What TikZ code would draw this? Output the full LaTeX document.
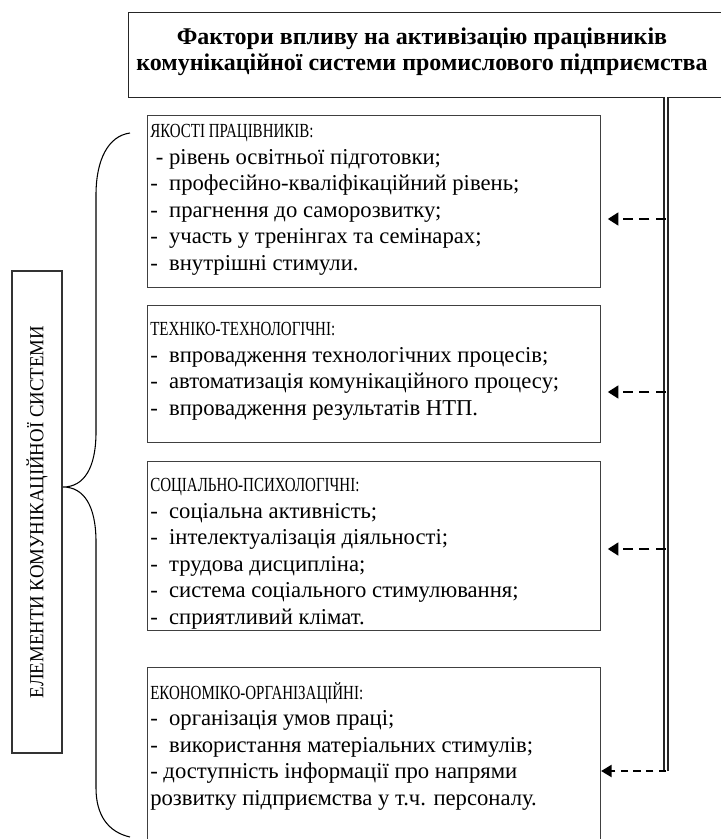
\documentclass[tikz,border=0pt]{standalone}
\usepackage{fontspec}
\setmainfont{Liberation Serif}
\newfontfamily\headfont[FakeStretch=0.75]{Liberation Serif}
\newfontfamily\sidefont[FakeStretch=0.94]{Liberation Serif}
\usetikzlibrary{arrows.meta,positioning}

\newcommand{\bodysize}{\fontsize{17}{19.9}\selectfont}

\tikzset{
  titlebox/.style={draw=black!85, line width=1pt, anchor=north west, inner sep=0pt},
  titletext/.style={font=\fontsize{18}{19.5}\selectfont\bfseries, align=center, inner sep=0pt},
  factbox/.style={draw=black!75, line width=0.8pt, minimum width=339.75pt, anchor=north west, inner sep=0pt},
  facttext/.style={font=\bodysize, align=left, anchor=north west, inner sep=0pt},
  spine/.style={draw=black!85, line width=1.4pt, double=white, double distance=1.1pt},
  feed/.style={-{Triangle[length=8pt,width=9.5pt]}, line width=2.2pt, dash pattern=on 7.5pt off 5pt, shorten >=5pt},
  feedlast/.style={-{Triangle[length=8pt,width=9pt]}, line width=1.9pt, dash pattern=on 5.5pt off 4pt},
  brace/.style={draw=black, line width=0.8pt},
}

\begin{document}
\begin{tikzpicture}[x=0.75pt, y=-0.75pt]
\useasboundingbox (0,0) rectangle (721,839);
\clip (0,0) rectangle (721,839);

% title
\node[titlebox, minimum width=459pt, minimum height=63.75pt] (title) at (128,12) {};
\node[titletext] (titletext) at (422,52) {Фактори впливу на активізацію працівників\\комунікаційної системи промислового підприємства};

% factor groups
\node[factbox, minimum height=129pt] (quality) at (147,115) {};
\node[factbox, minimum height=102.75pt] (technic) at (147,305) {};
\node[factbox, minimum height=126.75pt] (social) at (147,461) {};
\node[factbox, minimum height=150pt] (econ) at (147,667) {};

\node[facttext] (qualitytext) at (150,124) {{\fontsize{15}{19.9}\headfont ЯКОСТІ ПРАЦІВНИКІВ:}\\
  \ - рівень освітньої підготовки;\\
  -~ професійно-кваліфікаційний рівень;\\
  -~ прагнення до саморозвитку;\\
  -~ участь у тренінгах та семінарах;\\
  -~ внутрішні стимули.};
\node[facttext] (technictext) at (150,322) {{\fontsize{15}{19.9}\headfont ТЕХНІКО-ТЕХНОЛОГІЧНІ:}\\
  -~ впровадження технологічних процесів;\\
  -~ автоматизація комунікаційного процесу;\\
  -~ впровадження результатів НТП.};
\node[facttext] (socialtext) at (150,478) {{\fontsize{15}{19.9}\headfont СОЦІАЛЬНО-ПСИХОЛОГІЧНІ:}\\
  -~ соціальна активність;\\
  -~ інтелектуалізація діяльності;\\
  -~ трудова дисципліна;\\
  -~ система соціального стимулювання;\\
  -~ сприятливий клімат.};
\node[facttext] (econtext) at (150,682) {{\fontsize{15}{19.9}\headfont ЕКОНОМІКО-ОРГАНІЗАЦІЙНІ:}\\
  -~ організація умов праці;\\
  -~ використання матеріальних стимулів;\\
  - доступність інформації про напрями\\
  розвитку підприємства у т.ч. персоналу.};

% left side
\node[draw=black!80, line width=0.8pt, rotate=90, minimum width=361.5pt, minimum height=37.5pt,
  inner sep=0pt, font=\fontsize{15}{17}\sidefont] (elements) at (37,512) {ЕЛЕМЕНТИ КОМУНІКАЦІЙНОЇ СИСТЕМИ};
\draw[brace] (130,133) .. controls (108,136) and (96,160) .. (96,195) -- (96,432)
  .. controls (96,468) and (84,487) .. (63,487)
  .. controls (84,487) and (96,506) .. (96,542) -- (96,788)
  .. controls (96,815) and (108,832) .. (130,837);

% links
\coordinate (spinetop) at (666,97);
\coordinate (spinebot) at (666,771);
\coordinate (s1) at (666,219);
\coordinate (s2) at (666,392);
\coordinate (s3) at (666,549);
\draw[spine] (spinetop) -- (spinebot);
\draw[feed] (s1) -- (s1 -| quality.east);
\draw[feed] (s2) -- (s2 -| technic.east);
\draw[feed] (s3) -- (s3 -| social.east);
\draw[feedlast] (spinebot) -- (spinebot -| econ.east);
\end{tikzpicture}
\end{document}
